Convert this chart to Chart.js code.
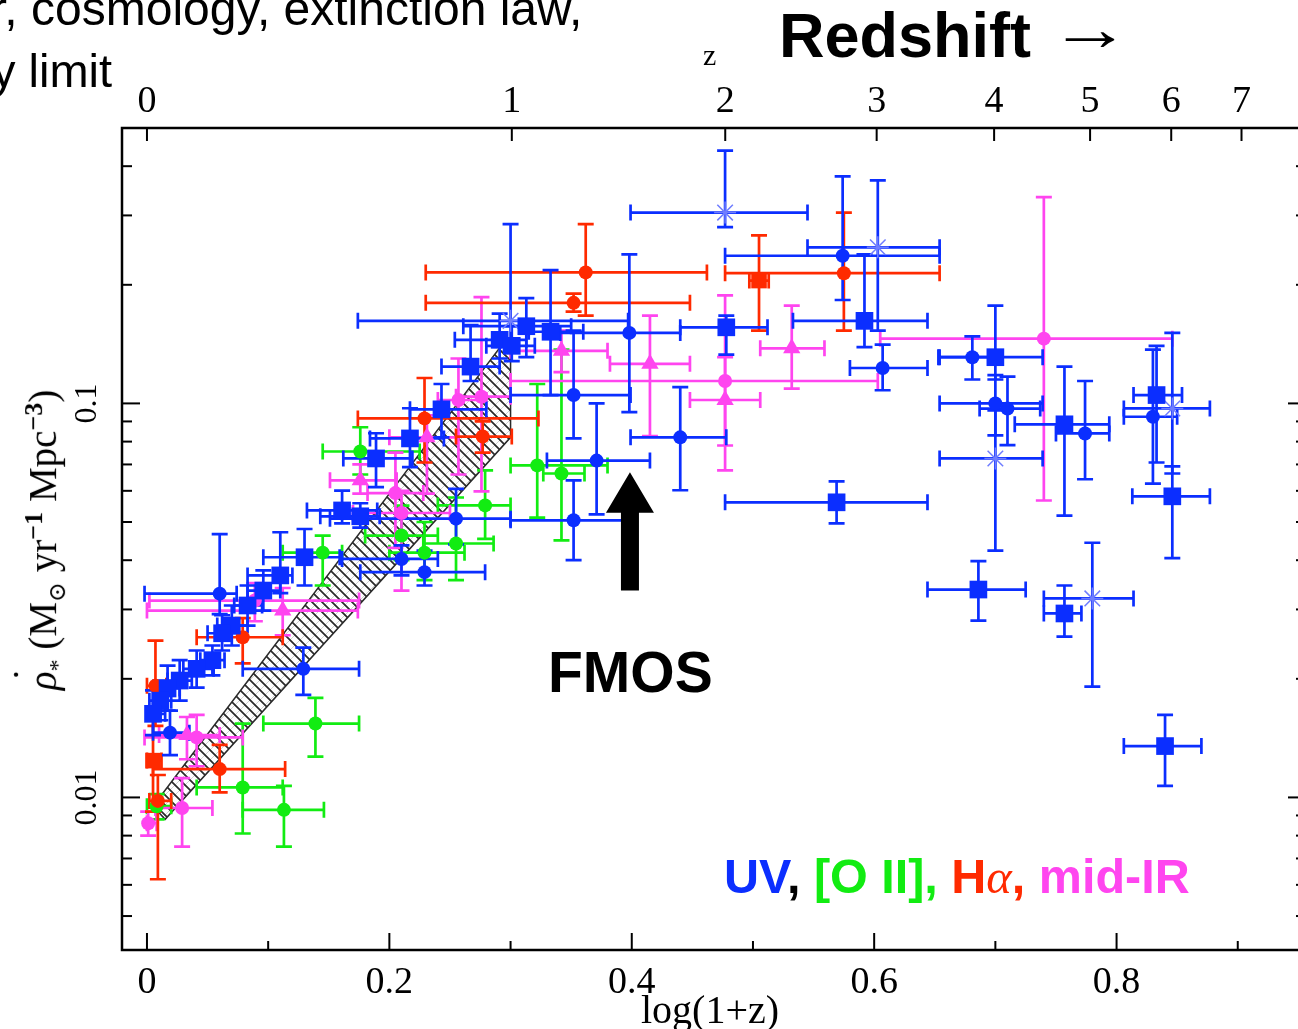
<!DOCTYPE html>
<html>
<head>
<meta charset="utf-8">
<script src="https://cdn.jsdelivr.net/npm/chart.js@4.4.0/dist/chart.umd.min.js"></script>
<style>
  html, body { margin: 0; padding: 0; background: #fff; overflow: hidden; width: 1298px; height: 1029px; }
  #wrap { position: relative; width: 1298px; height: 1029px; overflow: hidden; }
  #sfh { position: absolute; left: 0; top: 0; }
  .note { position: absolute; white-space: nowrap; line-height: 1; font-family: "Liberation Sans", Arial, sans-serif; }
  .serif { position: absolute; white-space: nowrap; line-height: 1; font-family: "Liberation Serif", "DejaVu Serif", serif; }
</style>
</head>
<body>
<div id="wrap">
  <canvas id="sfh" width="1320" height="1029"></canvas>

  <div class="note" style="left:-9px; top:-15px; font-size:48px;">r, cosmology, extinction law,</div>
  <div class="note" style="left:-8px; top:47px; font-size:47px;">y limit</div>
  <div class="note" style="left:779px; top:4px; font-size:63px; font-weight:bold;">Redshift <span style="display:inline-block; position:relative; top:-7px; transform:scaleX(1.3); transform-origin:left center;">→</span></div>
  <div class="serif" style="left:703px; top:40px; font-size:30px;">z</div>
  <div class="note" style="left:548px; top:644px; font-size:57px; font-weight:bold;">FMOS</div>
  <div class="note" style="left:724px; top:852px; font-size:48.5px; font-weight:bold;"><span style="color:#0b2eff">UV</span>, <span style="color:#12ec12">[O II],</span> <span style="color:#ff2a00">H<span style="font-family:'Liberation Serif',serif; font-style:italic; font-weight:normal;">α</span>,</span> <span style="color:#ff45ef">mid-IR</span></div>
  <div class="serif" style="left:560px; top:990px; width:300px; text-align:center; font-size:40px;">log(1+z)</div>
  <div class="serif" style="left:-205px; top:516px; width:500px; text-align:center; font-size:39px; transform:rotate(-90deg);"><span style="position:relative; font-style:italic;">ρ<span style="position:absolute; left:9px; top:-14px; font-style:normal;">˙</span></span><sub style="font-size:24px">*</sub> (M<sub style="font-size:24px">⊙</sub> yr<sup style="font-size:26px"><b>−1</b></sup> Mpc<sup style="font-size:26px"><b>−3</b></sup>)</div>
</div>

<script>
// rows: [log(1+z), rho, log(1+z) low, log(1+z) high, rho low, rho high]
const uvSquares = [
  [0.833, 0.105, 0.814, 0.854, 0.0708, 0.140],
  [0.846, 0.0581, 0.813, 0.877, 0.0405, 0.0692],
  [0.840, 0.0135, 0.806, 0.870, 0.0107, 0.0162],
  [0.757, 0.0885, 0.716, 0.794, 0.0519, 0.124],
  [0.700, 0.131, 0.654, 0.739, 0.115, 0.177],
  [0.686, 0.0337, 0.644, 0.725, 0.0281, 0.0398],
  [0.757, 0.0293, 0.740, 0.771, 0.0256, 0.0345],
  [0.592, 0.162, 0.533, 0.644, 0.139, 0.239],
  [0.569, 0.0561, 0.477, 0.644, 0.0496, 0.0634],
  [0.478, 0.156, 0.440, 0.512, 0.133, 0.167],
  [0.333, 0.152, 0.315, 0.360, 0.105, 0.218],
  [0.313, 0.157, 0.261, 0.350, 0.131, 0.185],
  [0.291, 0.145, 0.254, 0.313, 0.130, 0.169],
  [0.301, 0.140, 0.280, 0.320, 0.128, 0.157],
  [0.267, 0.124, 0.243, 0.291, 0.114, 0.158],
  [0.243, 0.0966, 0.217, 0.280, 0.082, 0.112],
  [0.217, 0.0815, 0.184, 0.245, 0.0689, 0.0972],
  [0.189, 0.0725, 0.162, 0.219, 0.0613, 0.084],
  [0.161, 0.0535, 0.132, 0.190, 0.0496, 0.0601],
  [0.176, 0.0517, 0.143, 0.192, 0.0484, 0.0558],
  [0.130, 0.0407, 0.096, 0.159, 0.0345, 0.048],
  [0.110, 0.0366, 0.083, 0.120, 0.033, 0.0471],
  [0.096, 0.0335, 0.083, 0.110, 0.0298, 0.0377],
  [0.083, 0.0307, 0.072, 0.095, 0.0273, 0.0345],
  [0.070, 0.0273, 0.058, 0.083, 0.0243, 0.0307],
  [0.062, 0.0261, 0.050, 0.075, 0.0236, 0.0290],
  [0.054, 0.0223, 0.044, 0.064, 0.0204, 0.0243],
  [0.041, 0.0212, 0.030, 0.055, 0.0190, 0.0236],
  [0.027, 0.0198, 0.017, 0.037, 0.0176, 0.0223],
  [0.017, 0.0189, 0.008, 0.027, 0.0166, 0.0216],
  [0.011, 0.0176, 0.002, 0.020, 0.0157, 0.0198],
  [0.005, 0.0163, 0.000, 0.015, 0.0144, 0.0187]
];
const uvCircles = [
  [0.681, 0.131, 0.653, 0.706, 0.115, 0.148],
  [0.700, 0.100, 0.654, 0.739, 0.083, 0.118],
  [0.710, 0.097, 0.687, 0.737, 0.0784, 0.117],
  [0.774, 0.0839, 0.750, 0.794, 0.0642, 0.114],
  [0.830, 0.0925, 0.806, 0.850, 0.0626, 0.137],
  [0.607, 0.123, 0.580, 0.644, 0.108, 0.141],
  [0.574, 0.237, 0.477, 0.654, 0.183, 0.377],
  [0.398, 0.151, 0.341, 0.440, 0.095, 0.239],
  [0.440, 0.0820, 0.399, 0.478, 0.0602, 0.110],
  [0.371, 0.0716, 0.330, 0.415, 0.0523, 0.100],
  [0.352, 0.105, 0.300, 0.399, 0.0815, 0.153],
  [0.352, 0.0505, 0.300, 0.399, 0.040, 0.0638],
  [0.255, 0.0510, 0.151, 0.300, 0.0439, 0.0607],
  [0.229, 0.0373, 0.176, 0.279, 0.0345, 0.0423],
  [0.210, 0.0403, 0.161, 0.240, 0.0366, 0.0436],
  [0.129, 0.0212, 0.079, 0.175, 0.0182, 0.0240],
  [0.060, 0.0329, -0.002, 0.074, 0.0292, 0.0466],
  [0.019, 0.0146, 0.005, 0.035, 0.0128, 0.0166]
];
const uvStars = [
  [0.477, 0.305, 0.399, 0.545, 0.280, 0.438],
  [0.603, 0.249, 0.545, 0.654, 0.153, 0.368],
  [0.700, 0.0725, 0.654, 0.739, 0.0423, 0.096],
  [0.846, 0.0971, 0.806, 0.877, 0.0664, 0.151],
  [0.780, 0.0320, 0.740, 0.814, 0.0191, 0.0443],
  [0.300, 0.162, 0.174, 0.397, 0.136, 0.285]
];
const o2Circles = [
  [0.322, 0.0696, 0.300, 0.380, 0.0513, 0.112],
  [0.342, 0.0664, 0.327, 0.361, 0.0449, 0.137],
  [0.279, 0.0551, 0.240, 0.300, 0.0453, 0.0676],
  [0.255, 0.0441, 0.228, 0.286, 0.0356, 0.0577],
  [0.229, 0.0418, 0.200, 0.262, 0.0356, 0.050],
  [0.210, 0.0462, 0.180, 0.240, 0.040, 0.055],
  [0.145, 0.0418, 0.112, 0.161, 0.0345, 0.0462],
  [0.176, 0.0755, 0.145, 0.225, 0.066, 0.087],
  [0.139, 0.0154, 0.096, 0.175, 0.0127, 0.0179],
  [0.079, 0.0106, 0.041, 0.112, 0.0081, 0.0154],
  [0.113, 0.0093, 0.079, 0.146, 0.0075, 0.0107],
  [0.008, 0.0095, 0.000, 0.020, 0.0088, 0.0102]
];
const haCircles = [
  [0.362, 0.215, 0.230, 0.462, 0.167, 0.285],
  [0.352, 0.180, 0.230, 0.448, 0.171, 0.190],
  [0.575, 0.214, 0.477, 0.654, 0.153, 0.305],
  [0.229, 0.0916, 0.174, 0.323, 0.0708, 0.116],
  [0.277, 0.0824, 0.255, 0.301, 0.075, 0.090],
  [0.060, 0.0118, 0.005, 0.114, 0.0103, 0.0136],
  [0.009, 0.0098, 0.002, 0.020, 0.0062, 0.0114],
  [0.007, 0.0192, 0.000, 0.016, 0.0152, 0.025],
  [0.079, 0.0255, 0.041, 0.112, 0.0219, 0.0285]
];
const haSquares = [
  [0.505, 0.205, 0.497, 0.513, 0.153, 0.267],
  [0.005, 0.0124, 0.000, 0.012, 0.0092, 0.0166]
];
const irCircles = [
  [0.740, 0.146, 0.605, 0.846, 0.0567, 0.334],
  [0.477, 0.114, 0.300, 0.603, 0.0782, 0.188],
  [0.276, 0.104, 0.255, 0.300, 0.0598, 0.186],
  [0.257, 0.102, 0.240, 0.280, 0.066, 0.130],
  [0.205, 0.0592, 0.182, 0.228, 0.043, 0.075],
  [0.210, 0.0527, 0.170, 0.250, 0.0335, 0.060],
  [0.001, 0.0086, 0.000, 0.008, 0.0080, 0.0092],
  [0.029, 0.0094, 0.007, 0.054, 0.0075, 0.0112],
  [0.041, 0.0142, -0.002, 0.079, 0.0120, 0.0162],
  [0.089, 0.0316, 0.002, 0.175, 0.028, 0.035]
];
const irTriangles = [
  [0.532, 0.138, 0.506, 0.559, 0.109, 0.177],
  [0.415, 0.126, 0.382, 0.448, 0.0826, 0.167],
  [0.477, 0.102, 0.448, 0.506, 0.0676, 0.131],
  [0.342, 0.136, 0.300, 0.380, 0.120, 0.153],
  [0.231, 0.0820, 0.200, 0.256, 0.059, 0.0933],
  [0.176, 0.0638, 0.151, 0.206, 0.059, 0.070],
  [0.112, 0.0298, 0.000, 0.174, 0.0258, 0.034],
  [0.033, 0.0144, 0.010, 0.060, 0.0125, 0.0160]
];

// hatched band, outline corners
const bandX = [0.005, 0.296, 0.300, 0.300, 0.015, 0.005];
const bandY = [0.0095, 0.145, 0.138, 0.082, 0.0088, 0.0095];

// FMOS arrow: x, tip, neck and tail in data units
const fmosArrow = { x: 0.3985, tip: 0.0669, neck: 0.0528, tail: 0.0335 };

// axes
const xTickVals = [0, 0.2, 0.4, 0.6, 0.8];
const xTickLabels = ['0', '0.2', '0.4', '0.6', '0.8'];
const xMinorVals = [0.1, 0.3, 0.5, 0.7, 0.9];
const zTickVals = [0, 1, 2, 3, 4, 5, 6, 7];
const yTickVals = [0.01, 0.1];
const yTickLabels = ['0.01', '0.1'];

const BLUE = '#0b2eff', GREEN = '#12ec12', RED = '#ff2a00', MAGENTA = '#ff45ef';

function toPoints(rows) {
  return rows.map(([x, y, xlo, xhi, ylo, yhi]) => ({ x, y, xlo, xhi, ylo, yhi }));
}

function series(label, rows, color, style, radius) {
  return {
    label: label,
    data: toPoints(rows),
    errorColor: color,
    pointStyle: style,
    pointRadius: radius,
    backgroundColor: color,
    borderColor: color,
    borderWidth: 0,
    showLine: false
  };
}

function hatchPattern(ctx) {
  const c = document.createElement('canvas');
  c.width = 10; c.height = 10;
  const g = c.getContext('2d');
  g.strokeStyle = 'rgba(0,0,0,0.18)';
  g.lineWidth = 1;
  g.beginPath();
  g.moveTo(0, 10); g.lineTo(10, 0);
  g.stroke();
  g.strokeStyle = '#2b2b2b';
  g.lineWidth = 1.7;
  g.beginPath();
  g.moveTo(0, 0); g.lineTo(10, 10);
  g.moveTo(-1, 9); g.lineTo(1, 11);
  g.moveTo(9, -1); g.lineTo(11, 1);
  g.stroke();
  return ctx.createPattern(c, 'repeat');
}

function drawErrorBars(chart) {
  const { ctx, scales: { x, y } } = chart;
  const cap = 8;
  ctx.save();
  ctx.lineWidth = 2.7;
  for (let i = chart.data.datasets.length - 1; i >= 0; i--) {
    const ds = chart.data.datasets[i];
    if (!ds.errorColor) continue;
    ctx.strokeStyle = ds.errorColor;
    ds.data.forEach(p => {
      const px = x.getPixelForValue(p.x), py = y.getPixelForValue(p.y);
      const x0 = x.getPixelForValue(p.xlo), x1 = x.getPixelForValue(p.xhi);
      const y0 = y.getPixelForValue(p.ylo), y1 = y.getPixelForValue(p.yhi);
      ctx.beginPath();
      ctx.moveTo(x0, py); ctx.lineTo(x1, py);
      ctx.moveTo(px, y0); ctx.lineTo(px, y1);
      ctx.moveTo(x0, py - cap); ctx.lineTo(x0, py + cap);
      ctx.moveTo(x1, py - cap); ctx.lineTo(x1, py + cap);
      ctx.moveTo(px - cap, y0); ctx.lineTo(px + cap, y0);
      ctx.moveTo(px - cap, y1); ctx.lineTo(px + cap, y1);
      ctx.stroke();
    });
  }
  ctx.restore();
}

// error bars go on top of the band but under the markers
const errorBarPlugin = {
  id: 'errorBars',
  afterDatasetDraw(chart, args) {
    if (chart.data.datasets[args.index].isBand) drawErrorBars(chart);
  }
};

const arrowPlugin = {
  id: 'fmosArrow',
  afterDatasetsDraw(chart) {
    const { ctx, scales: { x, y } } = chart;
    const cx = x.getPixelForValue(fmosArrow.x);
    const tip = y.getPixelForValue(fmosArrow.tip);
    const neck = y.getPixelForValue(fmosArrow.neck);
    const tail = y.getPixelForValue(fmosArrow.tail);
    ctx.save();
    ctx.fillStyle = '#000';
    ctx.beginPath();
    ctx.moveTo(cx, tip);
    ctx.lineTo(cx + 24, neck);
    ctx.lineTo(cx + 9, neck);
    ctx.lineTo(cx + 9, tail);
    ctx.lineTo(cx - 9, tail);
    ctx.lineTo(cx - 9, neck);
    ctx.lineTo(cx - 24, neck);
    ctx.closePath();
    ctx.fill();
    ctx.restore();
  }
};

// frame with inward ticks on all sides, labels in a serif face
const framePlugin = {
  id: 'frame',
  afterDraw(chart) {
    const { ctx, chartArea: a, scales: { x, y } } = chart;
    const tick = (x0, y0, x1, y1) => { ctx.beginPath(); ctx.moveTo(x0, y0); ctx.lineTo(x1, y1); ctx.stroke(); };
    ctx.save();
    ctx.strokeStyle = '#000';
    ctx.lineWidth = 2;
    xTickVals.forEach(v => { const p = x.getPixelForValue(v); tick(p, a.bottom, p, a.bottom - 17); });
    xMinorVals.forEach(v => { const p = x.getPixelForValue(v); tick(p, a.bottom, p, a.bottom - 9); });
    zTickVals.forEach(z => { const p = x.getPixelForValue(Math.log10(1 + z)); tick(p, a.top, p, a.top + 13); });
    for (let d = 0.001; d < 1; d *= 10) {
      for (let m = 1; m < 10; m++) {
        const v = m * d;
        if (v < y.min || v > y.max) continue;
        const p = y.getPixelForValue(v);
        const len = m === 1 ? 18 : 10;
        tick(a.left, p, a.left + len, p);
        tick(a.right, p, a.right - len, p);
      }
    }
    ctx.lineWidth = 2.5;
    ctx.strokeRect(a.left, a.top, a.right - a.left, a.bottom - a.top);

    ctx.fillStyle = '#000';
    ctx.font = '38px "Liberation Serif", serif';
    ctx.textAlign = 'center';
    ctx.textBaseline = 'alphabetic';
    xTickVals.forEach((v, i) => ctx.fillText(xTickLabels[i], x.getPixelForValue(v), a.bottom + 43));
    zTickVals.forEach(z => ctx.fillText(String(z), x.getPixelForValue(Math.log10(1 + z)), a.top - 16));
    ctx.font = '32px "Liberation Serif", serif';
    ctx.textBaseline = 'middle';
    yTickVals.forEach((v, i) => {
      ctx.save();
      ctx.translate(a.left - 34, y.getPixelForValue(v));
      ctx.rotate(-Math.PI / 2);
      ctx.fillText(yTickLabels[i], 0, 0);
      ctx.restore();
    });
    ctx.restore();
  }
};

const canvas = document.getElementById('sfh');
const ctx = canvas.getContext('2d');

new Chart(ctx, {
  type: 'scatter',
  data: {
    datasets: [
      series('UV squares', uvSquares, BLUE, 'rect', 12.5),
      series('UV circles', uvCircles, BLUE, 'circle', 7),
      Object.assign(series('UV stars', uvStars, BLUE, 'star', 11), {
        backgroundColor: 'rgba(0,0,0,0)', borderColor: '#6f7dff', borderWidth: 1.5
      }),
      series('Halpha squares', haSquares, RED, 'rect', 11),
      series('Halpha circles', haCircles, RED, 'circle', 7),
      series('mid-IR triangles', irTriangles, MAGENTA, 'triangle', 10),
      series('mid-IR circles', irCircles, MAGENTA, 'circle', 7),
      series('[O II]', o2Circles, GREEN, 'circle', 7),
      {
        label: 'band',
        type: 'line',
        isBand: true,
        order: 10,
        data: bandX.map((v, i) => ({ x: v, y: bandY[i] })),
        fill: 'shape',
        backgroundColor: hatchPattern(ctx),
        borderColor: '#2a2a2a',
        borderWidth: 1.5,
        pointRadius: 0,
        tension: 0
      }
    ]
  },
  options: {
    responsive: false,
    animation: false,
    layout: { padding: { left: 122, top: 128, right: 14, bottom: 79 } },
    plugins: {
      legend: { display: false },
      tooltip: { enabled: false }
    },
    scales: {
      x: { type: 'linear', min: -0.0206, max: 0.9563, display: false },
      y: { type: 'logarithmic', min: 0.0041, max: 0.5, display: false }
    }
  },
  plugins: [errorBarPlugin, arrowPlugin, framePlugin]
});
</script>
</body>
</html>
